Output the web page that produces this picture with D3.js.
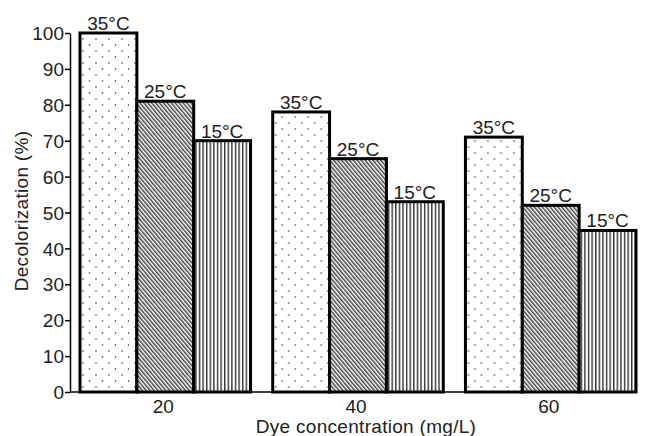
<!DOCTYPE html>
<html>
<head>
<meta charset="utf-8">
<script src="https://cdn.jsdelivr.net/npm/d3@7"></script>
<style>
body { margin: 0; background: #fff; }
text { font-family: "Liberation Sans", Arial, sans-serif; fill: #222; }
</style>
</head>
<body>
<svg id="chart" width="655" height="436"></svg>
<script>
// data
var concentrations = ["20", "40", "60"];
var temps = ["35°C", "25°C", "15°C"];
var t35 = [100, 78, 71];
var t25 = [81, 65, 52];
var t15 = [70, 53, 45];
var yTicks = [0, 10, 20, 30, 40, 50, 60, 70, 80, 90, 100];

var rows = concentrations.map(function (c, i) {
    return { conc: c, vals: [t35[i], t25[i], t15[i]] };
});

var svg = d3.select("#chart");

// fill patterns
var defs = svg.append("defs");
var dots = defs.append("pattern").attr("id", "p35")
    .attr("patternUnits", "userSpaceOnUse").attr("width", 13).attr("height", 12);
dots.append("rect").attr("width", 13).attr("height", 12).attr("fill", "#fff");
dots.append("circle").attr("cx", 3).attr("cy", 3).attr("r", 0.75).attr("fill", "#222");
dots.append("circle").attr("cx", 9.5).attr("cy", 9).attr("r", 0.75).attr("fill", "#222");

var hatch = defs.append("pattern").attr("id", "p25")
    .attr("patternUnits", "userSpaceOnUse").attr("width", 3).attr("height", 3)
    .attr("patternTransform", "rotate(-40)");
hatch.append("rect").attr("width", 3).attr("height", 3).attr("fill", "#fff");
hatch.append("rect").attr("width", 1.5).attr("height", 3).attr("fill", "#444");

var vert = defs.append("pattern").attr("id", "p15")
    .attr("patternUnits", "userSpaceOnUse").attr("width", 3.6).attr("height", 10);
vert.append("rect").attr("width", 3.6).attr("height", 10).attr("fill", "#fff");
vert.append("rect").attr("x", 0).attr("width", 1.4).attr("height", 10).attr("fill", "#333");

var fills = ["url(#p35)", "url(#p25)", "url(#p15)"];

var y = d3.scaleLinear().domain([0, 100]).range([392, 33]);
var x0 = d3.scaleBand().domain(concentrations).range([80, 636]).paddingInner(0.115).paddingOuter(0);
var x1 = d3.scaleBand().domain(temps).range([0, x0.bandwidth()]);

// bars
var groups = svg.selectAll("g.grp")
    .data(rows)
    .enter()
    .append("g")
    .attr("class", "grp")
    .attr("transform", function (d) { return "translate(" + x0(d.conc) + ",0)"; });

groups.selectAll("rect")
    .data(function (d) { return d.vals.map(function (v, j) { return { t: temps[j], v: v, j: j }; }); })
    .enter()
    .append("rect")
    .attr("x", function (d) { return x1(d.t); })
    .attr("y", function (d) { return y(d.v); })
    .attr("width", x1.bandwidth())
    .attr("height", function (d) { return y(0) - y(d.v); })
    .attr("fill", function (d) { return fills[d.j]; })
    .attr("stroke", "#000")
    .attr("stroke-width", 3);

groups.selectAll("text.lbl")
    .data(function (d) { return d.vals.map(function (v, j) { return { t: temps[j], v: v }; }); })
    .enter()
    .append("text")
    .attr("class", "lbl")
    .attr("x", function (d) { return x1(d.t) + x1.bandwidth() / 2; })
    .attr("y", function (d) { return y(d.v) - 3; })
    .attr("text-anchor", "middle")
    .attr("font-size", 19)
    .text(function (d) { return d.t; });

// axes
var yAxis = svg.append("g")
    .attr("transform", "translate(70,0)")
    .call(d3.axisLeft(y).tickValues(yTicks).tickSize(5).tickSizeOuter(0).tickPadding(1));
yAxis.selectAll("text").attr("font-size", 19).attr("dy", "0.35em")
    .style("font-family", "Liberation Sans, Arial, sans-serif").attr("fill", "#222");
yAxis.select(".domain").attr("stroke-width", 1.5);
yAxis.selectAll(".tick line").attr("stroke-width", 1.5);

svg.append("line")
    .attr("x1", 70).attr("x2", x0.range()[1] - 1)
    .attr("y1", y(0)).attr("y2", y(0))
    .attr("stroke", "#000").attr("stroke-width", 1.5);

svg.selectAll("text.xt")
    .data(concentrations)
    .enter()
    .append("text")
    .attr("class", "xt")
    .attr("x", function (d) { return x0(d) + x0.bandwidth() / 2 - 2; })
    .attr("y", 413)
    .attr("text-anchor", "middle")
    .attr("font-size", 19)
    .text(function (d) { return d; });

svg.append("text")
    .attr("x", 366).attr("y", 433)
    .attr("text-anchor", "middle")
    .attr("font-size", 19)
    .attr("letter-spacing", 0.3)
    .text("Dye concentration (mg/L)");

svg.append("text")
    .attr("transform", "translate(28,211) rotate(-90)")
    .attr("text-anchor", "middle")
    .attr("font-size", 19)
    .attr("letter-spacing", 0.3)
    .text("Decolorization (%)");
</script>
</body>
</html>
